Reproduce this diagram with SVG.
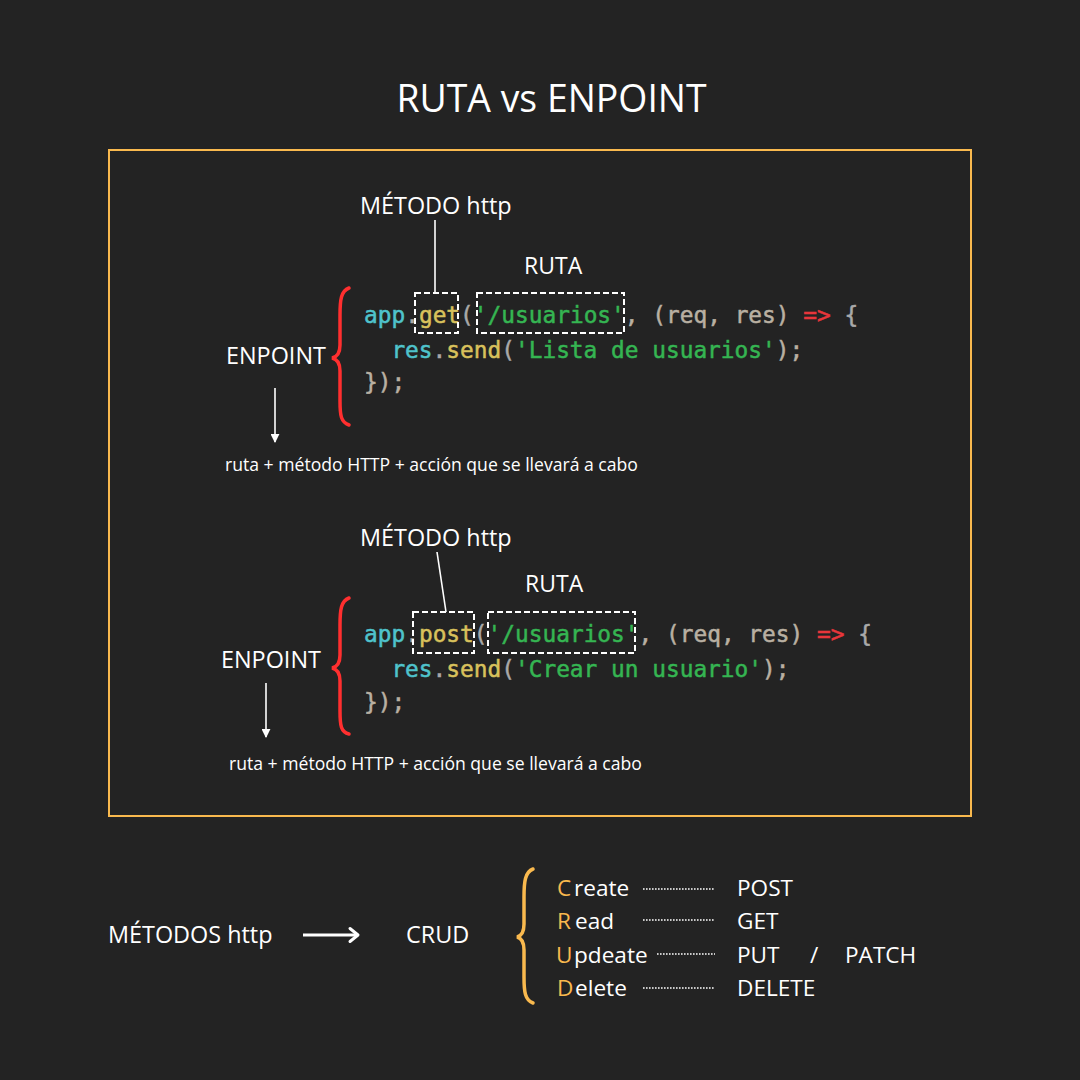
<svg xmlns="http://www.w3.org/2000/svg" width="1080" height="1080" viewBox="0 0 1080 1080">
  <defs>
    <marker id="tri" viewBox="0 0 10 10" refX="9" refY="5" markerWidth="9" markerHeight="9" markerUnits="userSpaceOnUse" orient="auto">
      <path d="M0,0 L10,5 L0,10 z" fill="#ffffff"/>
    </marker>
    <style>
      .sans { font-family: "Open Sans", "Noto Sans", "Liberation Sans", sans-serif; fill: #ffffff; }
      .lbl { font-size: 23.4px; }
      .lbl2 { font-size: 22.6px; }
      .small { font-size: 17.6px; }
      .code { font-family: "DejaVu Sans Mono", "Liberation Mono", monospace; font-size: 22.8px; stroke-width: 0.5; }
      .cy { fill: #4fc3cc; stroke: #4fc3cc; }
      .ye { fill: #d8c15c; stroke: #d8c15c; }
      .gr { fill: #35b552; stroke: #35b552; }
      .pu { fill: #a9a9a9; stroke: #a9a9a9; }
      .ta { fill: #b9b0a2; stroke: #b9b0a2; }
      .rd { fill: #e8363b; stroke: #e8363b; }
      .dash { fill: none; stroke: #ffffff; stroke-width: 2; stroke-dasharray: 6 3; }
      .lead { stroke: #ffffff; stroke-width: 1.6; fill: none; }
      .brace-red { fill: none; stroke: #ff2f2f; stroke-width: 3.5; stroke-linecap: round; }
      .brace-or { fill: none; stroke: #f9b94e; stroke-width: 3.5; stroke-linecap: round; }
      .dots { stroke: #ffffff; stroke-width: 1.6; stroke-dasharray: 1.6 1.4; }
      .or { fill: #f9b94e; }
    </style>
  </defs>

  <rect width="1080" height="1080" fill="#232323"/>

  <text class="sans" x="551.5" y="112" font-size="37.4" text-anchor="middle">RUTA vs ENPOINT</text>

  <rect id="frame" x="109" y="150" width="862" height="666" fill="none" stroke="#f9b94e" stroke-width="2"/>

  <!-- GET example -->
  <g id="get-example">
    <text class="sans lbl" x="360" y="214">MÉTODO http</text>
    <text class="sans" x="524" y="274" font-size="23">RUTA</text>
    <text class="code" y="323">
      <tspan x="364" class="cy">app</tspan><tspan class="pu">.</tspan><tspan class="ye">get</tspan><tspan class="pu">(</tspan><tspan class="gr">'/usuarios'</tspan><tspan class="ta">, (req, res) </tspan><tspan class="rd">=&gt;</tspan><tspan class="pu"> {</tspan>
    </text>
    <text class="code" y="358">
      <tspan x="391.4" class="cy">res</tspan><tspan class="pu">.</tspan><tspan class="ye">send</tspan><tspan class="pu">(</tspan><tspan class="gr">'Lista de usuarios'</tspan><tspan class="ta">);</tspan>
    </text>
    <text class="code ta" x="364" y="390">});</text>
    <rect class="dash" x="415" y="293" width="43" height="40"/>
    <rect class="dash" x="477" y="293" width="147" height="40"/>
    <path class="brace-red" d="M349,288 C341,291 340,300 340,315 L340,345 C340,353 337,357 332,358 C337,359 340,363 340,371 L340,401 C340,416 341,422 349,425"/>
    <text class="sans lbl" x="226" y="364">ENPOINT</text>
    <text class="sans small" x="225" y="471">ruta + método HTTP + acción que se llevará a cabo</text>
  </g>

  <!-- POST example -->
  <g id="post-example">
    <text class="sans lbl" x="360" y="546">MÉTODO http</text>
    <text class="sans" x="525" y="592" font-size="23">RUTA</text>
    <text class="code" y="642">
      <tspan x="364" class="cy">app</tspan><tspan class="pu">.</tspan><tspan class="ye">post</tspan><tspan class="pu">(</tspan><tspan class="gr">'/usuarios'</tspan><tspan class="ta">, (req, res) </tspan><tspan class="rd">=&gt;</tspan><tspan class="pu"> {</tspan>
    </text>
    <text class="code" y="677">
      <tspan x="391.4" class="cy">res</tspan><tspan class="pu">.</tspan><tspan class="ye">send</tspan><tspan class="pu">(</tspan><tspan class="gr">'Crear un usuario'</tspan><tspan class="ta">);</tspan>
    </text>
    <text class="code ta" x="364" y="710">});</text>
    <rect class="dash" x="413" y="612" width="61" height="41"/>
    <rect class="dash" x="488" y="612" width="147" height="41"/>
    <path class="brace-red" d="M349,598 C341,601 340,610 340,625 L340,655 C340,663 337,667 332,668 C337,669 340,673 340,681 L340,711 C340,726 341,732 349,734"/>
    <text class="sans lbl" x="221" y="668">ENPOINT</text>
    <text class="sans small" x="229" y="770">ruta + método HTTP + acción que se llevará a cabo</text>
  </g>

  <!-- CRUD summary -->
  <g id="crud">
    <text class="sans lbl" x="108" y="943">MÉTODOS http</text>
    <text class="sans lbl" x="406" y="943">CRUD</text>
    <path class="brace-or" d="M533,869 C525,872 524,882 524,897 L524,924 C524,932 521,936 517,937 C521,938 524,942 524,950 L524,977 C524,992 525,1000 533,1003"/>
    <text class="sans lbl2" y="896"><tspan x="557" class="or">C</tspan><tspan x="574">reate</tspan></text>
    <text class="sans lbl2" y="929"><tspan x="557" class="or">R</tspan><tspan x="575">ead</tspan></text>
    <text class="sans lbl2" y="963"><tspan x="556" class="or">U</tspan><tspan x="574">pdeate</tspan></text>
    <text class="sans lbl2" y="996"><tspan x="557" class="or">D</tspan><tspan x="575">elete</tspan></text>
    <text class="sans lbl2" x="737" y="896">POST</text>
    <text class="sans lbl2" x="737" y="929">GET</text>
    <text class="sans lbl2" x="737" y="963">PUT</text>
    <text class="sans lbl2" x="810" y="963">/</text>
    <text class="sans lbl2" x="845" y="963">PATCH</text>
    <text class="sans lbl2" x="737" y="996">DELETE</text>
  </g>

  <g id="connectors">
    <line class="lead" x1="435" y1="220" x2="435" y2="293"/>
    <line class="lead" x1="437" y1="552" x2="446" y2="612"/>
    <line class="lead" x1="275" y1="388" x2="275" y2="442" marker-end="url(#tri)"/>
    <line class="lead" x1="266" y1="683" x2="266" y2="737" marker-end="url(#tri)"/>
    <line x1="303" y1="935" x2="357" y2="935" stroke="#ffffff" stroke-width="3"/>
    <polyline points="350,928.5 358,935 350,941.5" fill="none" stroke="#ffffff" stroke-width="3" stroke-linecap="round" stroke-linejoin="round"/>
    <line class="dots" x1="643" y1="889" x2="715" y2="889"/>
    <line class="dots" x1="643" y1="920" x2="715" y2="920"/>
    <line class="dots" x1="657" y1="954" x2="715" y2="954"/>
    <line class="dots" x1="643" y1="988" x2="715" y2="988"/>
  </g>
</svg>
